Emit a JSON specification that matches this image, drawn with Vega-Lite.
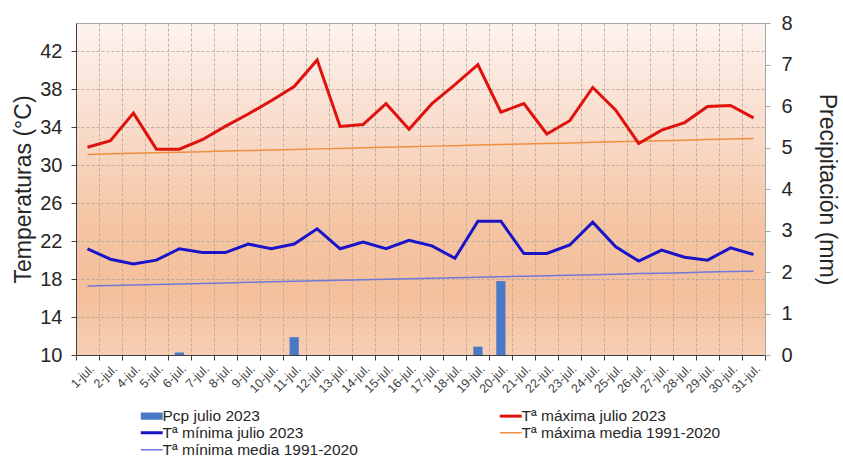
{
  "$schema": "https://vega.github.io/schema/vega-lite/v6.json",
  "autosize": "none",
  "width": 689,
  "height": 332,
  "padding": {"left": 76, "top": 23, "right": 78, "bottom": 102},
  "background": "white",
  "view": {
    "fill": {"gradient": "linear", "x1": 0, "y1": 0, "x2": 0, "y2": 1,
      "stops": [
        {"offset": 0, "color": "#fdf3ef"},
        {"offset": 0.3, "color": "#f9ddcd"},
        {"offset": 0.6, "color": "#f5c5a3"},
        {"offset": 0.82, "color": "#f4bf9b"},
        {"offset": 1, "color": "#f7cfb4"}
      ]},
    "stroke": "#a6a6a6",
    "strokeWidth": 1
  },
  "config": {
    "font": "Liberation Sans",
    "axis": {"labelColor": "#262626", "titleColor": "#262626", "titleFontWeight": "normal"}
  },
  "data": {"values": [
    {"dia": "1-jul.", "tmax": 31.9, "tmin": 21.2, "tmaxm": 31.15, "tminm": 17.28, "pcp": 0},
    {"dia": "2-jul.", "tmax": 32.6, "tmin": 20.1, "tmaxm": 31.21, "tminm": 17.33, "pcp": 0},
    {"dia": "4-jul.", "tmax": 35.5, "tmin": 19.6, "tmaxm": 31.26, "tminm": 17.39, "pcp": 0},
    {"dia": "5-jul.", "tmax": 31.7, "tmin": 20.0, "tmaxm": 31.32, "tminm": 17.44, "pcp": 0},
    {"dia": "6-jul.", "tmax": 31.7, "tmin": 21.2, "tmaxm": 31.38, "tminm": 17.49, "pcp": 0.06},
    {"dia": "7-jul.", "tmax": 32.7, "tmin": 20.8, "tmaxm": 31.44, "tminm": 17.55, "pcp": 0},
    {"dia": "8-jul.", "tmax": 34.1, "tmin": 20.8, "tmaxm": 31.50, "tminm": 17.60, "pcp": 0},
    {"dia": "9-jul.", "tmax": 35.4, "tmin": 21.7, "tmaxm": 31.55, "tminm": 17.66, "pcp": 0},
    {"dia": "10-jul.", "tmax": 36.8, "tmin": 21.2, "tmaxm": 31.61, "tminm": 17.71, "pcp": 0},
    {"dia": "11-jul.", "tmax": 38.3, "tmin": 21.7, "tmaxm": 31.67, "tminm": 17.77, "pcp": 0.43},
    {"dia": "12-jul.", "tmax": 41.1, "tmin": 23.3, "tmaxm": 31.73, "tminm": 17.82, "pcp": 0},
    {"dia": "13-jul.", "tmax": 34.1, "tmin": 21.2, "tmaxm": 31.78, "tminm": 17.87, "pcp": 0},
    {"dia": "14-jul.", "tmax": 34.3, "tmin": 21.9, "tmaxm": 31.84, "tminm": 17.93, "pcp": 0},
    {"dia": "15-jul.", "tmax": 36.5, "tmin": 21.2, "tmaxm": 31.90, "tminm": 17.98, "pcp": 0},
    {"dia": "16-jul.", "tmax": 33.8, "tmin": 22.1, "tmaxm": 31.96, "tminm": 18.04, "pcp": 0},
    {"dia": "17-jul.", "tmax": 36.5, "tmin": 21.5, "tmaxm": 32.02, "tminm": 18.09, "pcp": 0},
    {"dia": "18-jul.", "tmax": 38.5, "tmin": 20.2, "tmaxm": 32.07, "tminm": 18.14, "pcp": 0},
    {"dia": "19-jul.", "tmax": 40.6, "tmin": 24.1, "tmaxm": 32.13, "tminm": 18.20, "pcp": 0.2},
    {"dia": "20-jul.", "tmax": 35.6, "tmin": 24.1, "tmaxm": 32.19, "tminm": 18.25, "pcp": 1.78},
    {"dia": "21-jul.", "tmax": 36.5, "tmin": 20.7, "tmaxm": 32.25, "tminm": 18.31, "pcp": 0},
    {"dia": "22-jul.", "tmax": 33.3, "tmin": 20.7, "tmaxm": 32.30, "tminm": 18.36, "pcp": 0},
    {"dia": "23-jul.", "tmax": 34.7, "tmin": 21.6, "tmaxm": 32.36, "tminm": 18.41, "pcp": 0},
    {"dia": "24-jul.", "tmax": 38.2, "tmin": 24.0, "tmaxm": 32.42, "tminm": 18.47, "pcp": 0},
    {"dia": "25-jul.", "tmax": 35.8, "tmin": 21.4, "tmaxm": 32.48, "tminm": 18.52, "pcp": 0},
    {"dia": "26-jul.", "tmax": 32.3, "tmin": 19.9, "tmaxm": 32.53, "tminm": 18.58, "pcp": 0},
    {"dia": "27-jul.", "tmax": 33.7, "tmin": 21.05, "tmaxm": 32.59, "tminm": 18.63, "pcp": 0},
    {"dia": "28-jul.", "tmax": 34.5, "tmin": 20.3, "tmaxm": 32.65, "tminm": 18.68, "pcp": 0},
    {"dia": "29-jul.", "tmax": 36.2, "tmin": 20.0, "tmaxm": 32.71, "tminm": 18.74, "pcp": 0},
    {"dia": "30-jul.", "tmax": 36.3, "tmin": 21.3, "tmaxm": 32.76, "tminm": 18.79, "pcp": 0},
    {"dia": "31-jul.", "tmax": 35.0, "tmin": 20.6, "tmaxm": 32.82, "tminm": 18.84, "pcp": 0}
  ]},
  "resolve": {"scale": {"y": "independent"}},
  "layer": [
    {
      "mark": {"type": "bar", "width": {"band": 0.4}},
      "encoding": {
        "x": {"field": "dia", "type": "nominal", "sort": null,
          "scale": {"paddingInner": 0, "paddingOuter": 0},
          "axis": {"title": null, "labelAngle": -45, "labelFontSize": 12.5, "labelColor": "#404040",
            "tickBand": "extent", "grid": true, "gridDash": [3, 2], "gridColor": "#b0a49b", "gridWidth": 0.8,
            "domainColor": "#404040", "tickColor": "#404040", "tickSize": 5, "labelPadding": 2}},
        "y": {"field": "pcp", "type": "quantitative",
          "scale": {"domain": [0, 8], "nice": false},
          "axis": {"orient": "right", "title": "Precipitación (mm)", "values": [0,1,2,3,4,5,6,7,8],
            "grid": false, "labelFontSize": 20, "titleFontSize": 23, "labelPadding": 11, "titlePadding": 22,
            "domainColor": "#a6a6a6", "tickColor": "#a6a6a6", "tickSize": 5}},
        "color": {"datum": "Pcp julio 2023", "type": "nominal",
          "scale": {"domain": ["Pcp julio 2023", "Tª máxima julio 2023", "Tª mínima julio 2023", "Tª máxima media 1991-2020", "Tª mínima media 1991-2020"],
            "range": ["#4a78c8", "#e0120e", "#1a14c8", "#ee8e40", "#7078d8"]},
          "legend": {"title": null, "orient": "none", "legendX": 68, "legendY": 385, "direction": "horizontal", "columns": 2,
            "symbolType": "M-1,0H1", "symbolSize": 480, "labelFont": "Liberation Sans", "labelFontSize": 15.5, "labelColor": "#262626",
            "labelOffset": 3, "columnPadding": 135, "rowPadding": 0, "labelLimit": 400,
            "encode": {"symbols": {"update": {
              "shape": {"signal": "datum.value === 'Pcp julio 2023' ? 'M-1,-0.33H1V0.33H-1Z' : 'M-1,0H1'"},
              "stroke": {"signal": "datum.value === 'Pcp julio 2023' ? 'transparent' : scale('color', datum.value)"},
              "fill": {"signal": "datum.value === 'Pcp julio 2023' ? scale('color', datum.value) : 'transparent'"},
              "strokeWidth": {"signal": "datum.value === 'Pcp julio 2023' ? 0 : (datum.value === 'Tª máxima julio 2023' || datum.value === 'Tª mínima julio 2023') ? 3 : 1.5"},
              "strokeCap": {"value": "butt"},
              "opacity": {"value": 1}
            }}}}}
      }
    },
    {
      "layer": [
        {
          "mark": {"type": "line", "strokeWidth": 1.5},
          "encoding": {
            "x": {"field": "dia", "type": "nominal", "sort": null},
            "y": {"field": "tminm", "type": "quantitative", "scale": {"domain": [10, 45], "nice": false, "zero": false}},
            "color": {"datum": "Tª mínima media 1991-2020", "type": "nominal"}
          }
        },
        {
          "mark": {"type": "line", "strokeWidth": 1.5},
          "encoding": {
            "x": {"field": "dia", "type": "nominal", "sort": null},
            "y": {"field": "tmaxm", "type": "quantitative", "scale": {"domain": [10, 45], "nice": false, "zero": false}},
            "color": {"datum": "Tª máxima media 1991-2020", "type": "nominal"}
          }
        },
        {
          "mark": {"type": "line", "strokeWidth": 3},
          "encoding": {
            "x": {"field": "dia", "type": "nominal", "sort": null},
            "y": {"field": "tmin", "type": "quantitative", "scale": {"domain": [10, 45], "nice": false, "zero": false}},
            "color": {"datum": "Tª mínima julio 2023", "type": "nominal"}
          }
        },
        {
          "mark": {"type": "line", "strokeWidth": 3},
          "encoding": {
            "x": {"field": "dia", "type": "nominal", "sort": null},
            "y": {"field": "tmax", "type": "quantitative",
              "scale": {"domain": [10, 45], "nice": false, "zero": false},
              "axis": {"orient": "left", "title": "Temperaturas (°C)", "values": [10,14,18,22,26,30,34,38,42],
                "grid": true, "gridDash": [3, 2], "gridColor": "#b0a49b", "gridWidth": 0.8,
                "labelFontSize": 20, "titleFontSize": 23, "labelPadding": 9, "titlePadding": 4,
                "domainColor": "#404040", "tickColor": "#404040", "tickSize": 5}},
            "color": {"datum": "Tª máxima julio 2023", "type": "nominal"}
          }
        }
      ]
    }
  ]
}
